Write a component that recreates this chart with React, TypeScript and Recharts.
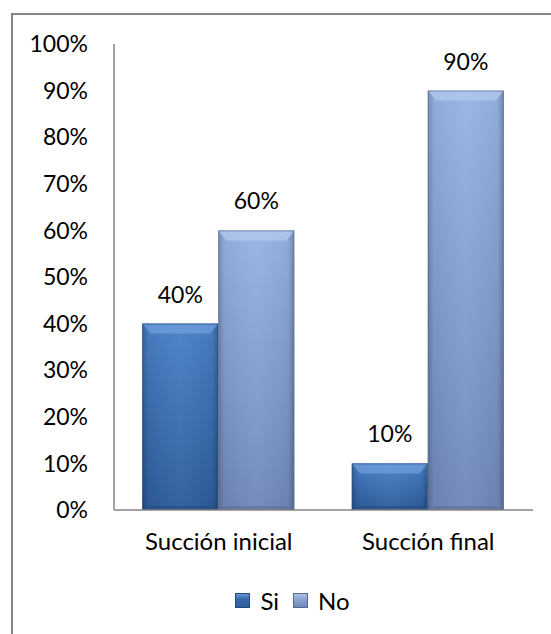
import React from 'react';
import { BarChart, Bar, XAxis, YAxis, Legend, LabelList } from 'recharts';

const categories = ['Succión inicial', 'Succión final'];
const siValues = [0.4, 0.1];
const noValues = [0.6, 0.9];
const yTicks = [0, 0.1, 0.2, 0.3, 0.4, 0.5, 0.6, 0.7, 0.8, 0.9, 1];
const seriesNames = ['Si', 'No'];

const data = categories.map((c, i) => ({ name: c, Si: siValues[i], No: noValues[i] }));

const FONT = 'Lato, "Open Sans", sans-serif';
const pct = (v: number) => `${Math.round(v * 100)}%`;

const palette: Record<string, { top: string; bottom: string; light: string; dark: string; legend: string }> = {
  Si: { top: '#4a80c8', bottom: '#2d5c9b', light: '#6f9edc', dark: '#24497a', legend: '#3a6aae' },
  No: { top: '#97b4e4', bottom: '#7088b8', light: '#b3c9ee', dark: '#56698f', legend: '#8aa4d4' },
};

const makeShape = (key: string) => (props: any) => {
  const { x, y, width, height } = props;
  if (!height || height <= 0) return <g />;
  const b = Math.min(10, height / 3);
  const s = Math.min(8, width / 4);
  const p = palette[key];
  return (
    <g>
      <rect x={x} y={y} width={width} height={height} fill={`url(#grad-${key})`} />
      <rect x={x} y={y} width={width} height={height} fill="url(#edge-shade)" />
      <polygon
        points={`${x},${y} ${x + width},${y} ${x + width - s},${y + b} ${x + s},${y + b}`}
        fill={p.light}
        opacity={0.75}
      />
      <polygon
        points={`${x},${y + height} ${x + width},${y + height} ${x + width - s},${y + height - 4} ${x + s},${y + height - 4}`}
        fill={p.dark}
        opacity={0.5}
      />
      <rect x={x + 0.5} y={y + 0.5} width={width - 1} height={height - 1} fill="none" stroke={p.dark} strokeOpacity={0.6} strokeWidth={1} />
    </g>
  );
};

const LegendContent = () => (
  <div style={{ display: 'flex', justifyContent: 'center', alignItems: 'center', fontFamily: FONT, fontSize: 24, color: '#000', height: 30, paddingLeft: 52 }}>
    {seriesNames.map((n, i) => (
      <div key={n} style={{ display: 'flex', alignItems: 'center', marginRight: i === 0 ? 14 : 0 }}>
        <span
          style={{
            display: 'inline-block',
            width: 15,
            height: 15,
            marginRight: 10,
            background: `linear-gradient(to bottom, ${palette[n].light}, ${palette[n].legend} 40%, ${palette[n].bottom})`,
            boxShadow: `inset 0 0 0 1px ${palette[n].dark}`,
          }}
        />
        <span>{n}</span>
      </div>
    ))}
  </div>
);

export default function App() {
  return (
    <div style={{ position: 'absolute', left: 0, top: 0, width: 551, height: 634, overflow: 'hidden', background: '#fff' }}>
      <div
        style={{
          position: 'absolute',
          left: 11,
          top: 13,
          width: 570,
          height: 660,
          border: '2px solid #868686',
          boxSizing: 'border-box',
        }}
      />
      <div style={{ position: 'absolute', left: 0, top: 0 }}>
        <BarChart
          width={551}
          height={634}
          data={data}
          margin={{ top: 44, right: 18, left: 0, bottom: 19 }}
          barCategoryGap="13.5%"
          barGap={0}
        >
          <defs>
            <linearGradient id="grad-Si" x1="0" y1="0" x2="0" y2="1">
              <stop offset="0%" stopColor={palette.Si.top} />
              <stop offset="100%" stopColor={palette.Si.bottom} />
            </linearGradient>
            <linearGradient id="grad-No" x1="0" y1="0" x2="0" y2="1">
              <stop offset="0%" stopColor={palette.No.top} />
              <stop offset="100%" stopColor={palette.No.bottom} />
            </linearGradient>
            <linearGradient id="edge-shade" x1="0" y1="0" x2="1" y2="0">
              <stop offset="0%" stopColor="#000" stopOpacity={0.22} />
              <stop offset="8%" stopColor="#000" stopOpacity={0.05} />
              <stop offset="50%" stopColor="#fff" stopOpacity={0.04} />
              <stop offset="92%" stopColor="#000" stopOpacity={0.05} />
              <stop offset="100%" stopColor="#000" stopOpacity={0.25} />
            </linearGradient>
          </defs>
          <XAxis
            dataKey="name"
            height={75}
            axisLine={{ stroke: '#868686', strokeWidth: 1.5 }}
            tickLine={false}
            tickSize={0}
            tickMargin={23}
            tick={{ fill: '#000', fontSize: 24, fontFamily: FONT }}
          />
          <YAxis
            width={114}
            domain={[0, 1]}
            ticks={yTicks}
            interval={0}
            tickFormatter={pct}
            axisLine={{ stroke: '#868686', strokeWidth: 1.5 }}
            tickLine={false}
            tickSize={0}
            tickMargin={26}
            tick={{ fill: '#000', fontSize: 23, fontFamily: FONT }}
          />
          <Legend verticalAlign="bottom" height={30} content={<LegendContent />} />
          <Bar dataKey="Si" isAnimationActive={false} shape={makeShape('Si')} fill={palette.Si.legend}>
            <LabelList dataKey="Si" position="top" offset={21} formatter={pct} fill="#000" fontSize={23} fontFamily={FONT} />
          </Bar>
          <Bar dataKey="No" isAnimationActive={false} shape={makeShape('No')} fill={palette.No.legend}>
            <LabelList dataKey="No" position="top" offset={21} formatter={pct} fill="#000" fontSize={23} fontFamily={FONT} />
          </Bar>
        </BarChart>
      </div>
    </div>
  );
}
